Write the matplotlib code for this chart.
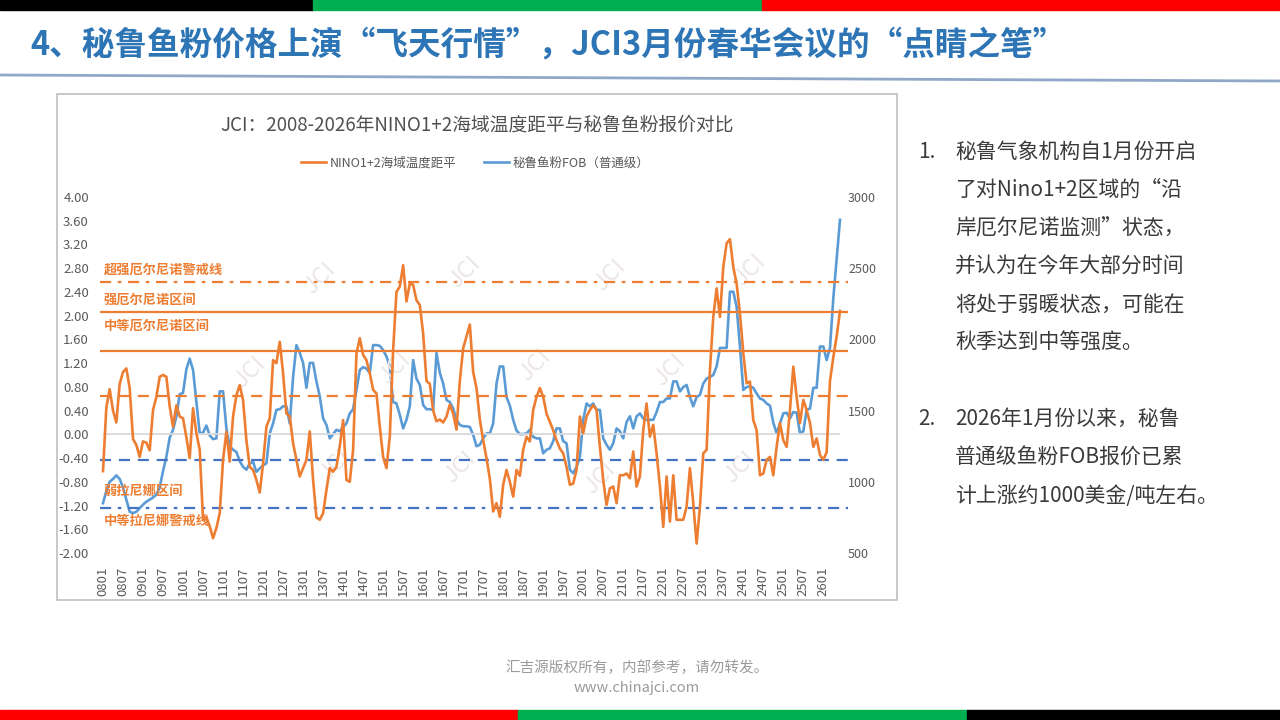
import matplotlib
matplotlib.use('Agg')
import matplotlib.pyplot as plt
from matplotlib.lines import Line2D
import matplotlib.patches as patches

plt.rcParams['font.family'] = ['Noto Sans CJK SC', 'DejaVu Sans']

# ---------------- data ----------------
# NINO1+2 sea temperature anomaly, monthly from 2008-01
nino = [
    -0.62, 0.45, 0.76, 0.40, 0.20, 0.85, 1.05, 1.11, 0.78, -0.08, -0.18, -0.38,
    -0.12, -0.14, -0.27, 0.41, 0.63, 0.97, 1.00, 0.97, 0.47, 0.13, 0.49, 0.30,
    0.27, -0.05, -0.40, 0.44, 0.02, -0.26, -1.45, -1.40, -1.55, -1.75, -1.58, -1.33,
    -0.43, 0.04, -0.46, 0.30, 0.66, 0.83, 0.58, -0.10, -0.55, -0.60, -0.77, -0.98,
    -0.49, 0.13, 0.27, 1.25, 1.20, 1.56, 1.03, 0.35, 0.30, -0.15, -0.43, -0.71,
    -0.57, -0.43, 0.05, -0.77, -1.40, -1.44, -1.33, -0.94, -0.57, -0.63, -0.55, -0.20,
    0.24, -0.77, -0.80, -0.26, 1.36, 1.62, 1.34, 1.25, 1.03, 0.75, 0.69, 0.13,
    -0.38, -0.57, -0.04, 1.42, 2.40, 2.49, 2.85, 2.24, 2.54, 2.52, 2.26, 2.18,
    1.70, 0.90, 0.85, 0.40, 0.22, 0.25, 0.20, 0.30, 0.50, 0.35, 0.08, 0.90,
    1.45, 1.65, 1.85, 1.05, 0.78, 0.25, -0.10, -0.40, -0.75, -1.30, -1.16, -1.39,
    -0.85, -0.60, -0.80, -1.05, -0.60, -0.70, -0.26, -0.04, -0.12, 0.41, 0.63, 0.78,
    0.63, 0.35, 0.21, 0.07, -0.10, -0.24, -0.32, -0.55, -0.85, -0.83, -0.60, 0.30,
    0.02, 0.30, 0.41, 0.49, 0.41, -0.21, -0.77, -1.19, -0.91, -0.88, -1.16, -0.69,
    -0.69, -0.66, -0.74, -0.29, -0.88, -0.71, 0.07, 0.52, -0.04, 0.16, -0.32, -0.88,
    -1.56, -0.71, -1.47, -0.69, -1.44, -1.44, -1.44, -1.22, -0.57, -1.16, -1.84, -1.22,
    -0.32, -0.26, 1.08, 1.98, 2.46, 1.98, 2.82, 3.22, 3.29, 2.82, 2.54, 2.04,
    1.37, 0.86, 0.89, 0.24, 0.07, -0.69, -0.66, -0.43, -0.38, -0.69, -0.21, 0.19,
    -0.10, -0.21, 0.41, 1.14, 0.63, 0.19, 0.58, 0.41, 0.19, -0.21, -0.07, -0.35,
    -0.43, -0.30, 0.90, 1.30, 1.65, 2.08,
]

# Peru fishmeal FOB (standard grade), USD/t, monthly from 2008-01
fob = [
    850, 935, 1000, 1020, 1045, 1020, 960, 875, 790, 780, 790, 815,
    840, 860, 875, 890, 910, 960, 1075, 1175, 1310, 1365, 1460, 1615,
    1625, 1790, 1865, 1785, 1560, 1340, 1345, 1395, 1325, 1300, 1305, 1635,
    1635, 1375, 1250, 1225, 1210, 1145, 1105, 1085, 1130, 1140, 1070, 1095,
    1115, 1130, 1340, 1410, 1505, 1510, 1530, 1530, 1410, 1735, 1960, 1905,
    1835, 1660, 1835, 1835, 1705, 1600, 1445, 1400, 1305, 1335, 1365, 1355,
    1385, 1410, 1480, 1510, 1645, 1785, 1805, 1795, 1765, 1960, 1960, 1955,
    1925, 1880, 1810, 1560, 1550, 1470, 1375, 1435, 1530, 1855, 1725, 1680,
    1540, 1510, 1510, 1505, 1905, 1765, 1690, 1575, 1560, 1515, 1435, 1400,
    1390, 1390, 1385, 1330, 1250, 1260, 1305, 1340, 1340, 1410, 1690, 1810,
    1810, 1595, 1535, 1435, 1360, 1335, 1335, 1340, 1365, 1315, 1305, 1305,
    1200, 1225, 1235, 1285, 1375, 1375, 1285, 1270, 1085, 1060, 1105, 1175,
    1435, 1550, 1530, 1550, 1505, 1505, 1305, 1260, 1225, 1270, 1375, 1355,
    1305, 1420, 1460, 1375, 1460, 1480, 1445, 1435, 1435, 1435, 1490, 1560,
    1560, 1585, 1585, 1705, 1705, 1635, 1665, 1680, 1595, 1530, 1595, 1610,
    1690, 1725, 1735, 1750, 1810, 1940, 1940, 1940, 2335, 2335, 2230, 1950,
    1645, 1665, 1670, 1660, 1620, 1585, 1575, 1550, 1535, 1415, 1340, 1410,
    1480, 1485, 1445, 1490, 1485, 1340, 1355, 1505, 1515, 1660, 1660, 1950,
    1950, 1855, 1940, 2290, 2565, 2840,
]

tick_labels = ['0801', '0807', '0901', '0907', '1001', '1007', '1101', '1107',
               '1201', '1207', '1301', '1307', '1401', '1407', '1501', '1507',
               '1601', '1607', '1701', '1707', '1801', '1807', '1901', '1907',
               '2001', '2007', '2101', '2107', '2201', '2207', '2301', '2307',
               '2401', '2407', '2501', '2507', '2601']

# threshold lines (left axis units)
thr_super = 2.56
thr_strong = 2.07
thr_moderate = 1.41
thr_weak = 0.65
thr_weak_lanina = -0.44
thr_mod_lanina = -1.24

left_ticks = [-2.0, -1.6, -1.2, -0.8, -0.4, 0.0, 0.4, 0.8, 1.2, 1.6, 2.0, 2.4, 2.8, 3.2, 3.6, 4.0]
right_ticks = [500, 1000, 1500, 2000, 2500, 3000]

series_names = ['NINO1+2海域温度距平', '秘鲁鱼粉FOB（普通级）']

# ---------------- figure ----------------
W, H = 1280, 720
fig = plt.figure(figsize=(12.8, 7.2), dpi=100)


def fx(px):
    return px / W


def fy(py):
    return 1 - py / H


ORANGE = '#ED7D31'
BLUE = '#5B9BD5'
DBLUE = '#4472C4'
GREY = '#595959'

# top / bottom colour bars
for x0, x1, c in [(0, 313, '#000000'), (313, 762, '#00B050'), (762, 1280, '#FF0000')]:
    fig.patches.append(patches.Rectangle((fx(x0), fy(10)), fx(x1 - x0), 10 / H,
                                         transform=fig.transFigure, color=c, zorder=1))
for x0, x1, c in [(0, 518, '#FF0000'), (518, 967, '#00B050'), (967, 1280, '#000000')]:
    fig.patches.append(patches.Rectangle((fx(x0), 0), fx(x1 - x0), 10 / H,
                                         transform=fig.transFigure, color=c, zorder=1))

# main title
fig.text(fx(30), fy(45), '4、秘鲁鱼粉价格上演“飞天行情”，JCI3月份春华会议的“点睛之笔”',
         fontsize=23.5, fontweight='bold', color='#2E75B6', va='center', ha='left')
fig.lines.append(Line2D([0, 1], [fy(75), fy(81)], transform=fig.transFigure,
                        color='#8FA8C8', lw=2))

# chart frame
fig.patches.append(patches.Rectangle((fx(57), fy(600)), fx(840), 506 / H,
                                     transform=fig.transFigure, fill=False,
                                     edgecolor='#BFBFBF', lw=1.2, zorder=1))

fig.text(fx(477), fy(125), 'JCI：2008-2026年NINO1+2海域温度距平与秘鲁鱼粉报价对比',
         fontsize=13.5, color='#505050', ha='center', va='center')

# axes
ax = fig.add_axes([fx(100), fy(553), fx(848 - 100), (553 - 197) / H])
n = len(nino)
x = list(range(n))
ax.set_xlim(-0.9, 223.4)
ax.set_ylim(-2, 4)
for s in ax.spines.values():
    s.set_visible(False)

# watermarks
wm_pos = [(320, 278), (465, 272), (610, 275), (750, 270),
          (250, 372), (395, 368), (535, 365), (670, 370),
          (335, 465), (460, 467), (600, 478), (740, 467)]
for (px, py) in wm_pos:
    fig.text(fx(px), fy(py), 'JCI', fontsize=17, color='#EDE6E6', rotation=45,
             ha='center', va='center', zorder=0.5)

ax.hlines(0, 0, n - 1, color='#D9D9D9', lw=1.3, zorder=1)

ax.axhline(thr_super, color=ORANGE, lw=1.6, ls=(0, (5, 3, 1.6, 3)), zorder=2)
ax.axhline(thr_strong, color=ORANGE, lw=1.6, zorder=2)
ax.axhline(thr_moderate, color=ORANGE, lw=1.6, zorder=2)
ax.axhline(thr_weak, color=ORANGE, lw=1.6, ls=(0, (5, 3.5)), zorder=2)
ax.axhline(thr_weak_lanina, color=DBLUE, lw=1.6, ls=(0, (5, 3.5)), zorder=2)
ax.axhline(thr_mod_lanina, color=DBLUE, lw=1.6, ls=(0, (5, 3, 1.6, 3)), zorder=2)

ax2 = ax.twinx()
ax2.set_ylim(500, 3000)
for s in ax2.spines.values():
    s.set_visible(False)

l2, = ax2.plot(x, fob, color=BLUE, lw=1.9, zorder=3)
l1, = ax.plot(x, nino, color=ORANGE, lw=1.9, zorder=4)
ax.set_zorder(ax2.get_zorder() + 1)
ax.patch.set_visible(False)

ax.set_yticks(left_ticks)
ax.set_yticklabels([f'{v:.2f}' for v in left_ticks])
ax2.set_yticks(right_ticks)
ax2.set_yticklabels([str(v) for v in right_ticks])
ax.set_xticks(list(range(0, n, 6))[:len(tick_labels)])
ax.set_xticklabels(tick_labels, rotation=90)
ax.tick_params(axis='y', length=0, pad=8, labelsize=9.5, labelcolor=GREY)
ax.tick_params(axis='x', length=0, pad=10, labelsize=9.5, labelcolor=GREY)
ax2.tick_params(axis='y', length=0, pad=0, labelsize=9, labelcolor=GREY)

# threshold labels
for txt, py in [('超强厄尔尼诺警戒线', 270), ('强厄尔尼诺区间', 300), ('中等厄尔尼诺区间', 326),
                ('弱拉尼娜区间', 491), ('中等拉尼娜警戒线', 521)]:
    fig.text(fx(104), fy(py), txt, fontsize=9.5, color=ORANGE, fontweight='bold',
             ha='left', va='center', zorder=5)

fig.legend([l1, l2], series_names, loc='center', bbox_to_anchor=(fx(475), fy(163)),
           ncol=2, frameon=False, fontsize=9, handlelength=2.0, columnspacing=2.2,
           handletextpad=0.3, labelcolor=GREY)

# right side text
TXT = '#3A3A3A'
item1 = ['秘鲁气象机构自1月份开启', '了对Nino1+2区域的“沿', '岸厄尔尼诺监测”状态，',
         '并认为在今年大部分时间', '将处于弱暖状态，可能在', '秋季达到中等强度。']
item2 = ['2026年1月份以来，秘鲁', '普通级鱼粉FOB报价已累', '计上涨约1000美金/吨左右。']
fig.text(fx(918), fy(152), '1.', fontsize=15, color=TXT, va='center')
for k, line in enumerate(item1):
    fig.text(fx(955), fy(152 + 38.2 * k), line, fontsize=15, color=TXT, va='center')
fig.text(fx(918), fy(419), '2.', fontsize=15, color=TXT, va='center')
for k, line in enumerate(item2):
    fig.text(fx(955), fy(419 + 38.5 * k), line, fontsize=15, color=TXT, va='center')

# footer
fig.text(fx(637), fy(668), '汇吉源版权所有，内部参考，请勿转发。', fontsize=10.5,
         color='#9A9A9A', ha='center', va='center')
fig.text(fx(637), fy(688), 'www.chinajci.com', fontsize=10.5, color='#9A9A9A',
         ha='center', va='center')

fig.savefig('out.png', dpi=100)
